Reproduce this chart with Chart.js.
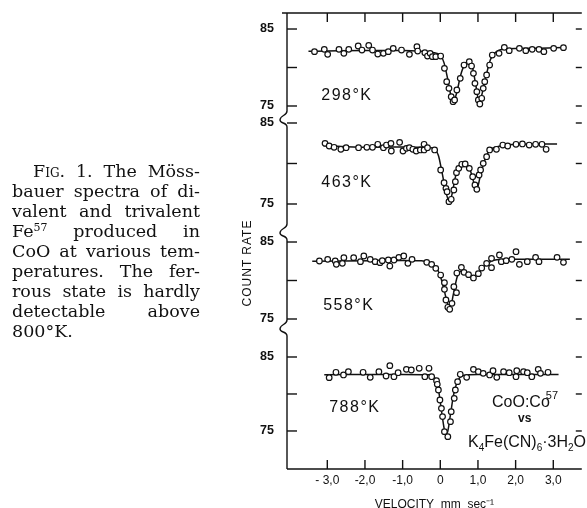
<!DOCTYPE html>
<html>
<head>
<meta charset="utf-8">
<script src="https://cdn.jsdelivr.net/npm/chart.js@4.4.0/dist/chart.umd.min.js"></script>
<style>
   html, body { margin: 0; padding: 0; background: #fff; }
   #wrap { position: relative; width: 587px; height: 508px; overflow: hidden; }
   #chart { position: absolute; left: 0; top: 0; }
   #caption { position: absolute; left: 12px; top: 161px; width: 188px; font-family: "DejaVu Serif", serif; font-size: 17.5px; line-height: 20px; color: #111; }
   #caption div { text-align: justify; text-align-last: justify; white-space: nowrap; }
   #caption .first { padding-left: 21px; }
   #caption .last { text-align: left; text-align-last: left; }
   #caption .sc { font-variant: small-caps; }
   #caption sup { font-size: 11px; line-height: 0; vertical-align: 6px; }
   #ytitle { position: absolute; left: 247px; top: 263px; transform: translate(-50%, -50%) rotate(-90deg); font-family: "Liberation Sans", Arial, sans-serif; font-size: 12px; letter-spacing: 1px; color: #111; white-space: nowrap; }
   .note { position: absolute; font-family: "Liberation Sans", Arial, sans-serif; color: #111; white-space: nowrap; }
   .note sub { font-size: 10px; line-height: 0; vertical-align: -4px; }
   .note sup { font-size: 11px; line-height: 0; vertical-align: 8px; margin-left: -4px; }
</style>
</head>
<body>
<div id="wrap">
   <canvas id="chart" width="587" height="508"></canvas>
   <div id="caption">
      <div class="first"><span>F<span class="sc">ig</span>. 1. The Möss-</span></div>
      <div>bauer spectra of di-</div>
      <div>valent and trivalent</div>
      <div>Fe<sup>57</sup> produced in</div>
      <div>CoO at various tem-</div>
      <div>peratures. The fer-</div>
      <div>rous state is hardly</div>
      <div>detectable above</div>
      <div class="last">800°K.</div>
   </div>
   <div id="ytitle">COUNT RATE</div>
   <div class="note" style="left:492px; top:393px; font-size:16px;">CoO:Co<sup>57</sup></div>
   <div class="note" style="left:518px; top:411px; font-size:12px; font-weight:bold;">vs</div>
   <div class="note" style="left:468px; top:433px; font-size:16px;">K<sub>4</sub>Fe(CN)<sub>6</sub>·3H<sub>2</sub>O</div>
</div>
<script>
document.addEventListener('DOMContentLoaded', initApp);

// velocity axis
const xTicks = [-3, -2, -1, 0, 1, 2, 3];
const xTickLabels = ['- 3,0', '-2,0', '-1,0', '0', '1,0', '2,0', '3,0'];

// count rate ticks, same in every panel
const yTicks = [75, 80, 85];
const yTickLabels = ['75', '', '85'];

const temps = ['298°K', '463°K', '558°K', '788°K'];

// measured points [velocity, count rate]
const pts298 = [[-3.34,82.06],[-3.08,82.36],[-2.99,81.71],[-2.69,82.36],[-2.56,81.84],[-2.43,82.36],[-2.18,82.79],[-2.08,82.27],[-1.90,82.88],[-1.80,82.27],[-1.66,81.75],[-1.51,81.84],[-1.38,82.06],[-1.25,82.49],[-1.03,82.27],[-0.82,81.71],[-0.62,82.71],[-0.60,82.14],[-0.41,81.93],[-0.34,81.49],[-0.27,81.84],[-0.21,81.41],[-0.12,81.41],[0.01,81.49],[0.11,79.89],[0.17,78.16],[0.23,77.29],[0.29,76.21],[0.34,75.56],[0.38,75.78],[0.44,77.08],[0.53,78.59],[0.63,80.32],[0.77,80.76],[0.83,80.19],[0.88,79.24],[0.92,77.94],[0.97,76.86],[1.01,75.78],[1.05,75.26],[1.10,76.0],[1.14,77.29],[1.18,78.16],[1.23,79.03],[1.31,80.32],[1.38,81.62],[1.56,81.84],[1.70,82.62],[1.83,82.19],[2.10,82.49],[2.27,82.19],[2.44,82.36],[2.62,82.36],[2.75,82.06],[3.01,82.49],[3.27,82.58]];
const pts463 = [[-3.06,82.49],[-2.95,82.16],[-2.82,82.0],[-2.64,81.75],[-2.50,81.95],[-2.17,81.95],[-1.95,82.0],[-1.80,82.0],[-1.66,82.37],[-1.51,81.95],[-1.43,82.28],[-1.30,81.54],[-1.31,82.49],[-1.08,82.61],[-0.99,81.54],[-0.90,81.87],[-0.82,81.95],[-0.73,81.75],[-0.64,81.54],[-0.53,81.67],[-0.43,82.37],[-0.43,81.67],[-0.34,81.95],[-0.15,81.67],[0.01,79.20],[0.10,77.63],[0.15,76.93],[0.18,76.52],[0.23,75.29],[0.29,75.58],[0.36,76.73],[0.40,77.76],[0.43,78.87],[0.49,79.40],[0.57,79.90],[0.66,79.94],[0.77,79.40],[0.86,78.37],[0.92,77.35],[0.97,76.81],[1.03,78.58],[1.07,79.20],[1.14,80.02],[1.23,80.84],[1.31,81.67],[1.49,81.75],[1.66,82.28],[1.79,82.16],[2.01,82.37],[2.18,82.41],[2.36,82.28],[2.53,82.37],[2.70,82.37],[2.81,81.75]];
const pts558 = [[-3.21,82.53],[-2.99,82.75],[-2.79,82.53],[-2.76,82.10],[-2.56,82.97],[-2.60,82.23],[-2.30,82.97],[-2.12,82.45],[-2.03,83.18],[-1.86,82.75],[-1.73,82.45],[-1.60,82.32],[-1.54,82.58],[-1.38,82.66],[-1.34,81.88],[-1.23,82.66],[-1.10,83.01],[-0.97,83.18],[-0.86,82.23],[-0.75,82.75],[-0.36,82.36],[-0.23,82.10],[-0.12,81.58],[0.01,80.71],[0.11,79.72],[0.11,78.85],[0.15,77.47],[0.20,76.52],[0.25,76.26],[0.31,77.03],[0.36,79.20],[0.43,78.42],[0.44,80.97],[0.56,81.71],[0.63,81.06],[0.75,80.76],[0.88,80.33],[1.01,80.89],[1.10,81.62],[1.23,82.23],[1.36,82.88],[1.36,81.67],[1.57,83.31],[1.62,82.45],[1.75,82.58],[1.90,82.75],[2.01,83.74],[2.10,82.10],[2.31,82.45],[2.53,83.01],[2.62,82.45],[3.10,83.01],[3.27,82.36]];
const pts788 = [[-2.95,82.21],[-2.77,82.93],[-2.57,82.57],[-2.44,83.02],[-2.05,82.93],[-1.86,82.25],[-1.63,83.02],[-1.44,82.43],[-1.34,83.83],[-1.23,82.34],[-1.12,82.88],[-0.90,83.33],[-0.77,83.24],[-0.56,83.47],[-0.41,82.34],[-0.30,83.47],[-0.23,82.34],[-0.10,81.80],[-0.08,81.31],[-0.05,80.54],[-0.01,79.19],[0.03,78.06],[0.06,76.94],[0.11,74.91],[0.20,74.23],[0.27,76.26],[0.29,77.61],[0.37,79.41],[0.40,80.54],[0.46,81.67],[0.53,82.66],[0.70,82.25],[0.88,83.33],[1.01,83.02],[1.14,82.79],[1.31,82.57],[1.40,83.15],[1.50,82.25],[1.68,83.02],[1.83,82.88],[2.01,82.34],[2.03,83.15],[2.21,83.02],[2.31,82.88],[2.43,82.34],[2.60,83.33],[2.66,82.79],[2.86,82.93]];

// fitted curves [velocity, count rate]
const fit298 = [[-3.5,82.1],[-2,82.2],[-1,82.2],[-0.5,82.1],[-0.2,81.95],[0,81.6],[0.1,80.6],[0.2,78.4],[0.28,76.4],[0.35,75.6],[0.44,76.8],[0.54,79.0],[0.65,80.4],[0.76,80.8],[0.86,79.9],[0.95,77.5],[1.03,75.5],[1.12,76.8],[1.22,79.0],[1.33,81.0],[1.45,81.9],[1.7,82.4],[2.5,82.5],[3.3,82.6]];
const fit463 = [[-3.1,82.2],[-2,82.0],[-1,82.05],[-0.4,82.0],[-0.2,81.9],[-0.05,81.0],[0.05,78.8],[0.15,76.5],[0.23,75.4],[0.3,76.0],[0.4,78.3],[0.5,79.6],[0.65,80.0],[0.78,79.4],[0.88,77.8],[0.97,76.8],[1.05,78.2],[1.15,80.0],[1.3,81.6],[1.45,82.0],[1.8,82.3],[2.5,82.4],[3.1,82.4]];
const fit558 = [[-3.4,82.5],[-1,82.6],[-0.5,82.55],[-0.25,82.2],[-0.1,81.6],[0,80.6],[0.1,78.8],[0.2,76.9],[0.27,76.6],[0.35,78.3],[0.45,80.5],[0.55,81.2],[0.7,80.8],[0.85,80.4],[1.0,80.9],[1.15,81.8],[1.35,82.5],[1.7,82.75],[2.5,82.75],[3.44,82.75]];
const fit788 = [[-3.08,82.6],[-1,82.65],[-0.3,82.6],[-0.15,82.2],[-0.05,80.6],[0.03,77.8],[0.1,75.4],[0.15,74.5],[0.2,75.0],[0.27,77.2],[0.35,79.8],[0.45,81.6],[0.6,82.5],[1,82.65],[3.14,82.65]];

// panel axes, top to bottom
const panelIds = ['p1', 'p2', 'p3', 'p4'];
const panelMin = [73.57, 71.79, 74.09, 69.86];
const panelMax = [87.08, 85.74, 86.56, 89.19];
const panelWeight = [104, 113, 96, 143];
const tempLabelAt = [[-3.16, 76.4], [-3.16, 77.7], [-3.11, 76.8], [-2.95, 78.1]];

const ink = '#111';
const sans = '"Liberation Sans", Arial, sans-serif';

function initApp() {
   const pointSets = [pts298, pts463, pts558, pts788];
   const fitSets = [fit298, fit463, fit558, fit788];

   const datasets = [];
   panelIds.forEach((id, i) => {
      datasets.push({
         type: 'line',
         data: pointSets[i],
         yAxisID: id,
         showLine: false,
         pointRadius: 2.8,
         pointBorderWidth: 1.2,
         pointBorderColor: ink,
         pointBackgroundColor: '#fff',
         order: 0,
      });
      datasets.push({
         type: 'line',
         data: fitSets[i],
         yAxisID: id,
         borderColor: ink,
         borderWidth: 1.5,
         pointRadius: 0,
         cubicInterpolationMode: 'monotone',
         order: 1,
      });
   });

   const noPad = s => { s.paddingTop = 0; s.paddingBottom = 0; s.paddingLeft = 0; s.paddingRight = 0; };

   const scales = {
      x: {
         type: 'linear',
         position: 'bottom',
         min: -4.07,
         max: 3.757,
         afterBuildTicks: s => { s.ticks = xTicks.map(v => ({ value: v })); },
         afterFit: s => { s.height = 39; noPad(s); },
         grid: { display: false, drawTicks: false },
         border: { display: false },
         ticks: {
            padding: 4,
            maxRotation: 0,
            autoSkip: false,
            color: ink,
            font: { family: sans, size: 12 },
            callback: (v, i) => xTickLabels[i],
         },
         title: {
            display: true,
            text: 'VELOCITY  mm  sec⁻¹',
            color: ink,
            font: { family: sans, size: 12 },
            padding: { top: 0, bottom: -4 },
         },
      },
   };

   // stacked axes: the last one defined ends up on top
   for (let i = panelIds.length - 1; i >= 0; i--) {
      scales[panelIds[i]] = {
         type: 'linear',
         position: 'left',
         stack: 'panels',
         stackWeight: panelWeight[i],
         min: panelMin[i],
         max: panelMax[i],
         afterBuildTicks: s => { s.ticks = yTicks.map(v => ({ value: v })); },
         afterFit: s => { s.width = 287; noPad(s); },
         grid: { display: false, drawTicks: false },
         border: { display: false },
         ticks: {
            padding: 13,
            color: ink,
            font: { family: sans, size: 12.5, weight: 'bold' },
            callback: (v, idx) => yTickLabels[idx],
         },
      };
   }

   new Chart(document.getElementById('chart').getContext('2d'), {
      type: 'line',
      data: { datasets },
      options: {
         responsive: false,
         animation: false,
         layout: { padding: { top: 13, left: 0, right: 0, bottom: 0 } },
         plugins: { legend: { display: false }, tooltip: { enabled: false } },
         scales,
      },
      plugins: [framePlugin],
   });
}

const framePlugin = {
   id: 'frame',
   afterDraw(chart) {
      const { ctx, chartArea: a, scales } = chart;
      const x = scales.x;
      const L = a.left;

      ctx.save();
      ctx.strokeStyle = ink;
      ctx.lineWidth = 1.4;

      const line = (x1, y1, x2, y2) => {
         ctx.beginPath();
         ctx.moveTo(x1, y1);
         ctx.lineTo(x2, y2);
         ctx.stroke();
      };

      line(L - 5, a.top, a.right, a.top);
      line(L, a.bottom, a.right, a.bottom);
      xTicks.forEach(v => {
         const px = x.getPixelForValue(v);
         line(px, a.bottom, px, a.bottom - 9);
         line(px, a.top, px, a.top + 9);
      });

      // broken left axis
      ctx.beginPath();
      ctx.moveTo(L, a.top);
      panelIds.slice(1).forEach(id => {
         const b = scales[id].top + 3;
         ctx.lineTo(L, b - 9);
         ctx.bezierCurveTo(L, b - 4, L - 7, b - 5, L - 7, b);
         ctx.bezierCurveTo(L - 7, b + 4, L, b + 2, L, b + 7);
      });
      ctx.lineTo(L, a.bottom);
      ctx.stroke();

      panelIds.forEach((id, i) => {
         const s = scales[id];
         yTicks.forEach(v => {
            const py = s.getPixelForValue(v);
            line(L, py, L + 10, py);
            line(a.right, py, a.right - 6, py);
         });

         const [tx, ty] = tempLabelAt[i];
         ctx.fillStyle = ink;
         ctx.font = '16px ' + sans;
         ctx.textAlign = 'left';
         ctx.textBaseline = 'middle';
         ctx.letterSpacing = '1.5px';
         ctx.fillText(temps[i], x.getPixelForValue(tx), s.getPixelForValue(ty));
      });

      ctx.restore();
   },
};
</script>
</body>
</html>
